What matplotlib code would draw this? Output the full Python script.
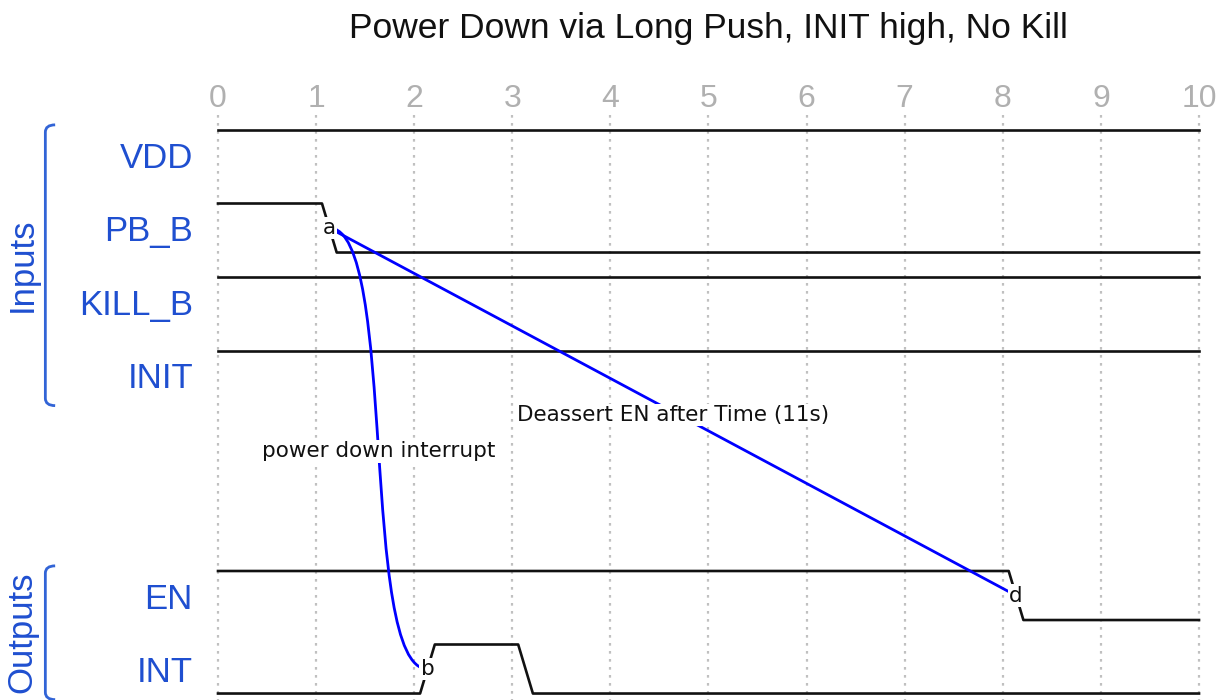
import numpy as np
import matplotlib
matplotlib.use("Agg")
import matplotlib.pyplot as plt
from matplotlib.path import Path
from matplotlib.patches import PathPatch

# ---------------- data ----------------
title = "Power Down via Long Push, INIT high, No Kill"
signal_names = ["VDD", "PB_B", "KILL_B", "INIT", "", "", "EN", "INT"]
signal_waves = ["1.........", "10........", "1.........", "1.........",
                "", "", "1.......0.", "0.10......"]
signal_nodes = ["", ".a........", "", "", "", "", "........d.", "..b......."]
edges = [("a", "~", "b", "power down interrupt"),
         ("a", "-", "d", "Deassert EN after Time (11s)")]
groups = [("Inputs", 0, 3), ("Outputs", 6, 7)]
tick_labels = [str(i) for i in range(11)]

# ---------------- style ----------------
W, H = 1231, 700
X0_PX, UNIT_PX = 218.0, 98.1       # time 0 pixel, pixels per time unit
Y0_PX, ROW_PX = 130.0, 73.5        # row 0 top pixel, pixels per row
LOW = 0.667                        # low level offset inside row
TR0, TR1 = 0.06, 0.21              # transition start/end within a unit
LABEL_BLUE = "#1f4fd0"
BRACKET_BLUE = "#3264d6"

fig = plt.figure(figsize=(W / 100, H / 100), dpi=100)
ax = fig.add_axes([0, 0, 1, 1])
ax.set_xlim(-X0_PX / UNIT_PX, (W - X0_PX) / UNIT_PX)
ax.set_ylim((H - Y0_PX) / ROW_PX, -Y0_PX / ROW_PX)
ax.axis("off")

n_units = len(tick_labels) - 1

# grid
for i, lab in enumerate(tick_labels):
    ax.plot([i, i], [-0.2, 8], color="#c0c0c0", lw=1.6,
            linestyle=(0, (1.2, 2.4)), zorder=1)
    ax.text(i, -0.42, lab, ha="center", va="center", fontsize=23,
            color="#b0b0b0", family="Liberation Sans")

# waveforms
nodes = {}
for row, (name, wave, nd) in enumerate(zip(signal_names, signal_waves, signal_nodes)):
    if name:
        ax.text(-0.255, row + 0.385, name, ha="right", va="center", fontsize=25,
                color=LABEL_BLUE, family="Liberation Sans")
    if not wave:
        continue
    levels = []
    cur = None
    for ch in wave:
        if ch != ".":
            cur = ch
        levels.append(cur)
    ylev = lambda c: row if c == "1" else row + LOW
    xs, ys = [0], [ylev(levels[0])]
    for t in range(1, len(levels)):
        if levels[t] != levels[t - 1]:
            xs += [t + TR0, t + TR1]
            ys += [ylev(levels[t - 1]), ylev(levels[t])]
    xs.append(n_units)
    ys.append(ylev(levels[-1]))
    ax.plot(xs, ys, color="#111111", lw=1.9, zorder=3, solid_joinstyle="round")
    for t, ch in enumerate(nd):
        if ch != ".":
            nodes[ch] = (t + (TR0 + TR1) / 2, row + LOW / 2)

# edges
for src, kind, dst, lab in edges:
    (x1, y1), (x2, y2) = nodes[src], nodes[dst]
    if kind == "~":
        dx, dy = x2 - x1, y2 - y1
        verts = [(x1, y1), (x1 + 0.7 * dx, y1), (x1 + 0.3 * dx, y1 + dy), (x2, y2)]
        path = Path(verts, [Path.MOVETO, Path.CURVE4, Path.CURVE4, Path.CURVE4])
        ax.add_patch(PathPatch(path, fill=False, edgecolor="#0000ff", lw=2, zorder=4))
        p = np.array(verts)
        mx, my = (p[0] + 3 * p[1] + 3 * p[2] + p[3]) / 8
    else:
        ax.plot([x1, x2], [y1, y2], color="#0000ff", lw=2, zorder=4)
        mx, my = (x1 + x2) / 2, (y1 + y2) / 2
    ax.text(mx, my + 0.04, lab, ha="center", va="center", fontsize=15.5, color="#111111",
            family="DejaVu Sans", zorder=6,
            bbox=dict(boxstyle="square,pad=0.05", fc="white", ec="none"))

for k, (x, y) in nodes.items():
    ax.text(x, y, k, ha="center", va="center", fontsize=15.5, color="#111111",
            family="DejaVu Sans", zorder=6,
            bbox=dict(boxstyle="square,pad=0.05", fc="white", ec="none"))

# groups
for name, r0, r1 in groups:
    top, bot = r0 - 0.07, r1 + 0.75
    bx = -1.76
    c = 0.1
    verts = [(bx + 0.1, top), (bx, top), (bx, top + c * 1.0), (bx, bot - c),
             (bx, bot), (bx + 0.1, bot)]
    codes = [Path.MOVETO, Path.CURVE3, Path.CURVE3, Path.LINETO, Path.CURVE3, Path.CURVE3]
    ax.add_patch(PathPatch(Path(verts, codes), fill=False, edgecolor=BRACKET_BLUE,
                           lw=2, zorder=3))
    ax.text(-2.0, (top + bot) / 2, name, rotation=90, ha="center", va="center",
            fontsize=25, color=LABEL_BLUE, family="Liberation Sans")

# title
ax.text(5, -1.25, title, ha="center", va="baseline", fontsize=25.5,
        color="#111111", family="Liberation Sans")

fig.savefig("out.png", dpi=100)
